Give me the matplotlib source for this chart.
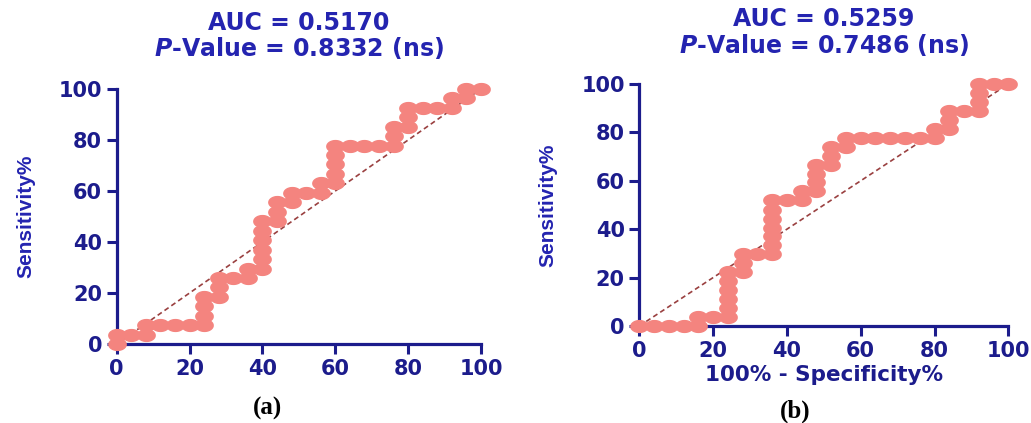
import numpy as np
import matplotlib
matplotlib.use("Agg")
import matplotlib.pyplot as plt

# ROC points (100% - specificity %, sensitivity %)
a_fpr = [0, 0, 4, 8, 8, 12, 16, 20, 24, 24, 24, 24, 28, 28, 28, 32, 36, 36, 40, 40,
         40, 40, 40, 40, 44, 44, 44, 48, 48, 52, 56, 56, 60, 60, 60, 60, 60, 64, 68, 72,
         76, 76, 76, 80, 80, 80, 84, 88, 92, 92, 96, 96, 100]
a_sens = [0, 3.7, 3.7, 3.7, 7.4, 7.4, 7.4, 7.4, 7.4, 11.1, 14.8, 18.5, 18.5, 22.2, 25.9,
          25.9, 25.9, 29.6, 29.6, 33.3, 37.0, 40.7, 44.4, 48.1, 48.1, 51.9, 55.6, 55.6,
          59.3, 59.3, 59.3, 63.0, 63.0, 66.7, 70.4, 74.1, 77.8, 77.8, 77.8, 77.8, 77.8,
          81.5, 85.2, 85.2, 88.9, 92.6, 92.6, 92.6, 92.6, 96.3, 96.3, 100, 100]

b_fpr = [0, 4, 8, 12, 16, 16, 20, 24, 24, 24, 24, 24, 24, 28, 28, 28, 32, 36, 36, 36,
         36, 36, 36, 36, 40, 44, 44, 48, 48, 48, 48, 52, 52, 52, 56, 56, 60, 64, 68, 72,
         76, 80, 80, 84, 84, 84, 88, 92, 92, 92, 92, 96, 100]
b_sens = [0, 0, 0, 0, 0, 3.7, 3.7, 3.7, 7.4, 11.1, 14.8, 18.5, 22.2, 22.2, 25.9, 29.6,
          29.6, 29.6, 33.3, 37.0, 40.7, 44.4, 48.1, 51.9, 51.9, 51.9, 55.6, 55.6, 59.3,
          63.0, 66.7, 66.7, 70.4, 74.1, 74.1, 77.8, 77.8, 77.8, 77.8, 77.8, 77.8, 77.8,
          81.5, 81.5, 85.2, 88.9, 88.9, 88.9, 92.6, 96.3, 100, 100, 100]

auc_vals = ["0.5170", "0.5259"]
p_vals = ["0.8332", "0.7486"]
panel_tags = ["(a)", "(b)"]
ticks = [0, 20, 40, 60, 80, 100]

NAVY = "#1c1c8c"
BLUE = "#2424b0"
SALMON = "#f4847f"

plt.rcParams["font.family"] = "DejaVu Sans"
plt.rcParams["mathtext.fontset"] = "dejavusans"

W, H = 1031, 423
fig = plt.figure(figsize=(W / 100, H / 100), dpi=100)

def px(x, y):
    return x / W, 1 - y / H

# axes boxes in pixels: left, right, top(100), bottom(0)
boxes = [(116.7, 481, 89, 344), (639.3, 1008.3, 84, 326)]

# slightly wide ellipse marker, like the stretched original
t = np.linspace(0, 2 * np.pi, 40)
ell = list(zip(0.5 * np.cos(t), 0.34 * np.sin(t)))

data = [(a_fpr, a_sens), (b_fpr, b_sens)]
title_y = [(23, 48), (19, 45)]
tag_pos = [(268, 408), (795, 411)]
ylab_x = [-0.224, -0.223]

for i, (l, r, tp, bt) in enumerate(boxes):
    x0, y0 = px(l, bt)
    x1, y1 = px(r, tp)
    ax = fig.add_axes([x0, y0, x1 - x0, y1 - y0])
    fx, sy = data[i]
    ax.plot([0, 100], [0, 100], ls=(0, (3, 2)), color="#9a4040", lw=1.2, zorder=2)
    ax.plot(fx, sy, color=SALMON, lw=3, zorder=3, clip_on=False)
    ax.plot(fx, sy, ls="none", marker=ell, ms=12.5, color=SALMON, mec=SALMON,
            zorder=4, clip_on=False)
    ax.set_xlim(0, 100)
    ax.set_ylim(0, 100)
    ax.set_xticks(ticks)
    ax.set_yticks(ticks)
    for s in ["top", "right"]:
        ax.spines[s].set_visible(False)
    for s in ["left", "bottom"]:
        ax.spines[s].set_color(NAVY)
        ax.spines[s].set_linewidth(2.3)
    ax.tick_params(direction="out", length=7, width=2.2, color=NAVY,
                   labelcolor=NAVY, labelsize=15, pad=3.5)
    for lab in ax.get_xticklabels() + ax.get_yticklabels():
        lab.set_fontweight("bold")
    ax.set_ylabel("Sensitivity%", color=BLUE, fontsize=15, fontweight="bold",
                  family=["Liberation Sans Narrow", "Liberation Sans"])
    ax.yaxis.set_label_coords(ylab_x[i], 0.5)
    if i == 1:
        ax.set_xlabel("100% - Specificity%", color=NAVY, fontsize=15.5,
                      fontweight="bold", labelpad=3)

    cx = (l + r) / 2
    fig.text(*px(cx, title_y[i][0]), "AUC = " + auc_vals[i], ha="center",
             va="center", fontsize=17, fontweight="bold", color=BLUE)
    fig.text(*px(cx, title_y[i][1]),
             r"$\mathbfit{P}$-Value = " + p_vals[i] + " (ns)", ha="center",
             va="center", fontsize=17, fontweight="bold", color=BLUE)
    fig.text(*px(*tag_pos[i]), panel_tags[i], ha="center", va="center",
             fontsize=18, fontweight="bold", family="Liberation Serif", color="black")

fig.savefig("out.png", dpi=100, facecolor="white")
